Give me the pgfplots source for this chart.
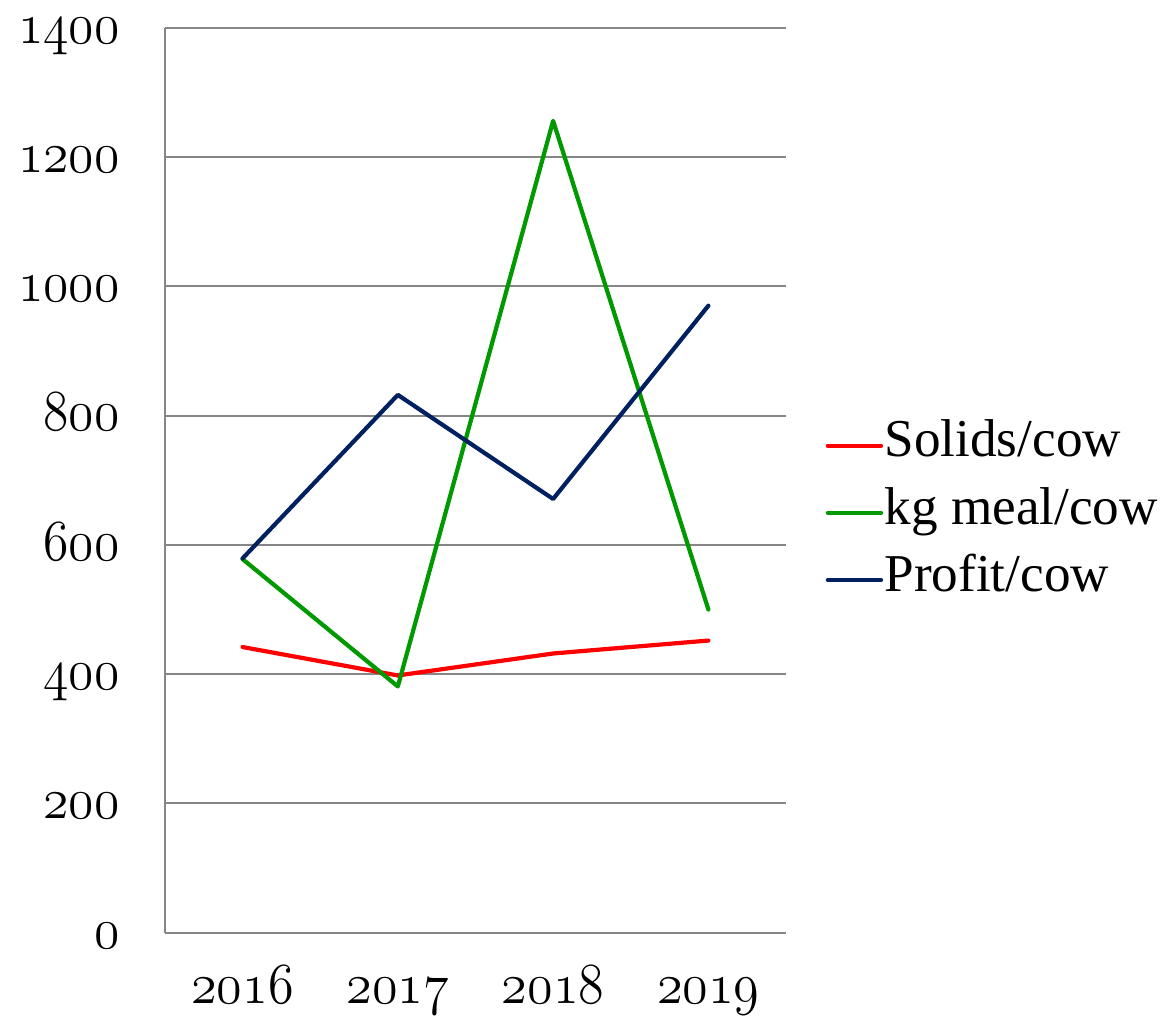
\documentclass[border=0pt]{standalone}
\usepackage{fontspec}
\setmainfont{Liberation Serif}
\usepackage{pgfplots}
\pgfplotsset{compat=1.18}
\definecolor{cred}{RGB}{255,0,0}
\definecolor{cgreen}{RGB}{0,153,0}
\definecolor{cnavy}{RGB}{0,32,96}
\definecolor{cgrid}{RGB}{134,134,134}
\newcommand{\osf}{\fontsize{19.5}{22}\usefont{OML}{cmm}{m}{it}}
\begin{document}
\begin{tikzpicture}
\begin{axis}[
  scale only axis, width=221.8pt, height=323.2pt,
  xmin=-0.5, xmax=3.5, ymin=0, ymax=1400,
  xtick={0,1,2,3}, xticklabels={2016,2017,2018,2019},
  ytick={0,200,400,600,800,1000,1200,1400},
  yticklabels={0,200,400,600,800,1000,1200,1400},
  major tick length=0pt,
  axis x line*=bottom, axis y line*=left,
  ymajorgrids, grid style={cgrid, line width=0.7pt},
  axis line style={cgrid, line width=0.7pt},
  xticklabel style={font=\osf, anchor=base, inner sep=0pt, text height=9pt, text depth=2.5pt, yshift=-25.3pt, xscale=0.9, transform shape},
  yticklabel style={font=\osf, anchor=base east, inner sep=0pt, text height=8.5pt, text depth=2.5pt, xshift=-16pt, yshift=-5.5pt, xscale=0.89, transform shape},
  legend style={at={(1.063,0.464)}, anchor=west, draw=none, fill=none,
    font=\fontsize{19}{22}\selectfont, inner sep=0pt, row sep=7pt,
    nodes={inner sep=0.5pt, text height=12pt, text depth=4pt}},
  legend cell align=left,
  legend image code/.code={\draw[#1, line width=1.5pt, line cap=round] (0pt,0pt) -- (19pt,0pt);},
  every axis plot/.append style={line width=1.5pt, line join=round, line cap=round},
]
\addplot[cred, mark=none] coordinates {(0,442) (1,398) (2,432) (3,452)};
\addlegendentry{Solids/cow}
\addplot[cgreen, mark=none] coordinates {(0,578) (1,381) (2,1256) (3,500)};
\addlegendentry{kg meal/cow}
\addplot[cnavy, mark=none] coordinates {(0,579) (1,832) (2,671) (3,970)};
\addlegendentry{Profit/cow}
\coordinate (bl) at (rel axis cs:0,0);
\end{axis}
\pgfresetboundingbox
\path (bl) ++(-58.9pt,-29.6pt) rectangle ++(419.6pt,362.7pt);
\end{tikzpicture}
\end{document}
